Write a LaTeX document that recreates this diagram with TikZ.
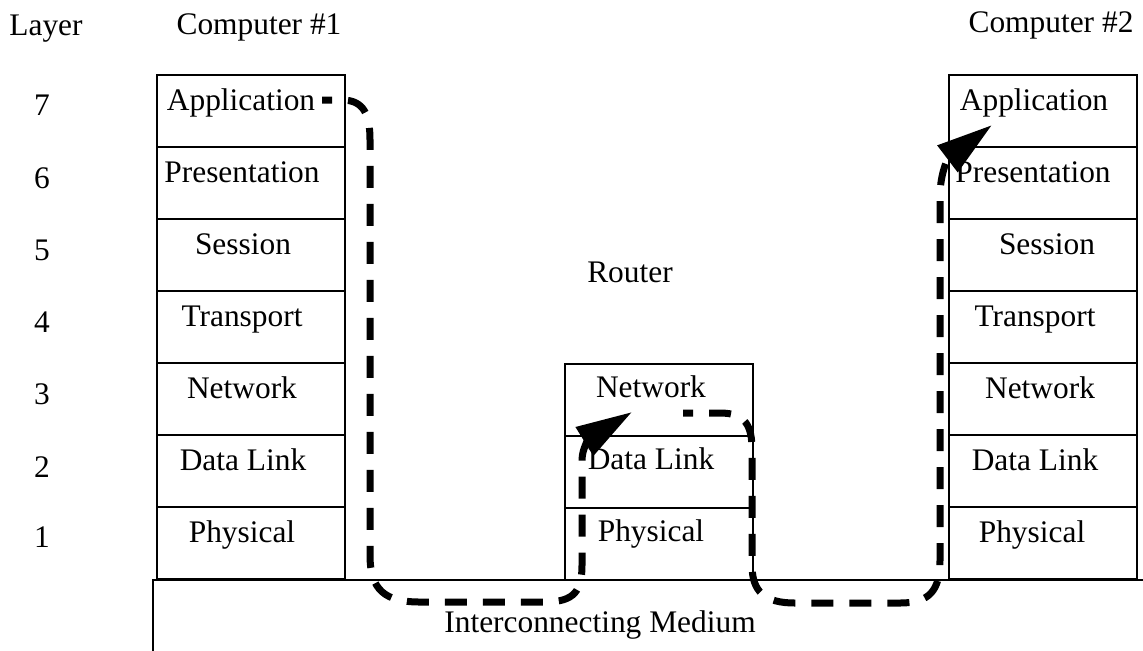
\documentclass[tikz,border=0pt]{standalone}
\usepackage{fontspec}
\setmainfont{Liberation Serif}
\usetikzlibrary{arrows.meta}
\begin{document}
\begin{tikzpicture}[x=0.5pt,y=-0.5pt,
  layerbox/.style={draw,line width=0.9pt,minimum width=94pt,minimum height=36pt,inner sep=0pt,outer sep=0pt,anchor=north west},
  lbl/.style={font=\fontsize{15.7}{19}\selectfont,anchor=base,inner sep=0pt},
  flow/.style={line width=3.5pt,dash pattern=on 11pt off 8pt,dash phase=6pt,-{Triangle[length=28pt,width=16pt]}}]
\useasboundingbox (0,0) rectangle (1143,650);
\clip (0,0) rectangle (1143,650);

% Interconnecting medium
\node[draw,line width=0.9pt,anchor=north west,minimum width=520pt,minimum height=60pt,inner sep=0pt,outer sep=0pt] (medium) at (153,580) {};
\node[lbl] (mediumlbl) at (600,632) {Interconnecting Medium};

% headers
\node[lbl] (layer) at (46,35) {Layer};
\node[lbl] (c1) at (259,34) {Computer \#1};
\node[lbl] (c2) at (1051,32) {Computer \#2};
\node[lbl] (router) at (630,282) {Router};

% layer numbers
\foreach \n/\yb in {7/115,6/188,5/260,4/332,3/404,2/477,1/547}
  \node[lbl] (num\n) at (42,\yb) {\n};

% Computer #1 stack
\foreach \i/\t/\xt in {0/Application/241,1/Presentation/242,2/Session/243,3/Transport/242,4/Network/242,5/Data Link/243,6/Physical/242}{
  \node[layerbox] (a\i) at (157,75+72*\i) {};
  \node[lbl] (at\i) at (\xt,110+72*\i) {\t};
}
% Computer #2 stack
\foreach \i/\t/\xt in {0/Application/1034,1/Presentation/1033,2/Session/1047,3/Transport/1035,4/Network/1040,5/Data Link/1035,6/Physical/1032}{
  \node[layerbox] (b\i) at (949,75+72*\i) {};
  \node[lbl] (bt\i) at (\xt,110+72*\i) {\t};
}
% Router stack
\foreach \i/\t in {0/Network,1/Data Link,2/Physical}{
  \node[layerbox] (r\i) at (565,364+72*\i) {};
  \node[lbl] (rt\i) at (651,397+72*\i) {\t};
}

% data flow paths
\coordinate (s1) at (322,100);
\coordinate (t1) at (632,412);
\coordinate (s2) at (683,413);
\coordinate (t2) at (992,125);

\draw[flow] (s1) -- (342,100) .. controls (364,100) and (370,115) .. (370,140)
  -- (370,555) .. controls (370,590) and (385,602) .. (420,602)
  -- (545,602) .. controls (575,602) and (582,590) .. (582,565)
  -- (582,460) .. controls (582,448) and (590,438) .. (t1);

\draw[flow] (s2) -- (720,413) .. controls (745,413) and (752,425) .. (752,450)
  -- (752,565) .. controls (752,592) and (765,603) .. (795,603)
  -- (900,603) .. controls (930,603) and (940,590) .. (940,560)
  -- (940,195) .. controls (940,178) and (946,160) .. (t2);
\end{tikzpicture}
\end{document}
